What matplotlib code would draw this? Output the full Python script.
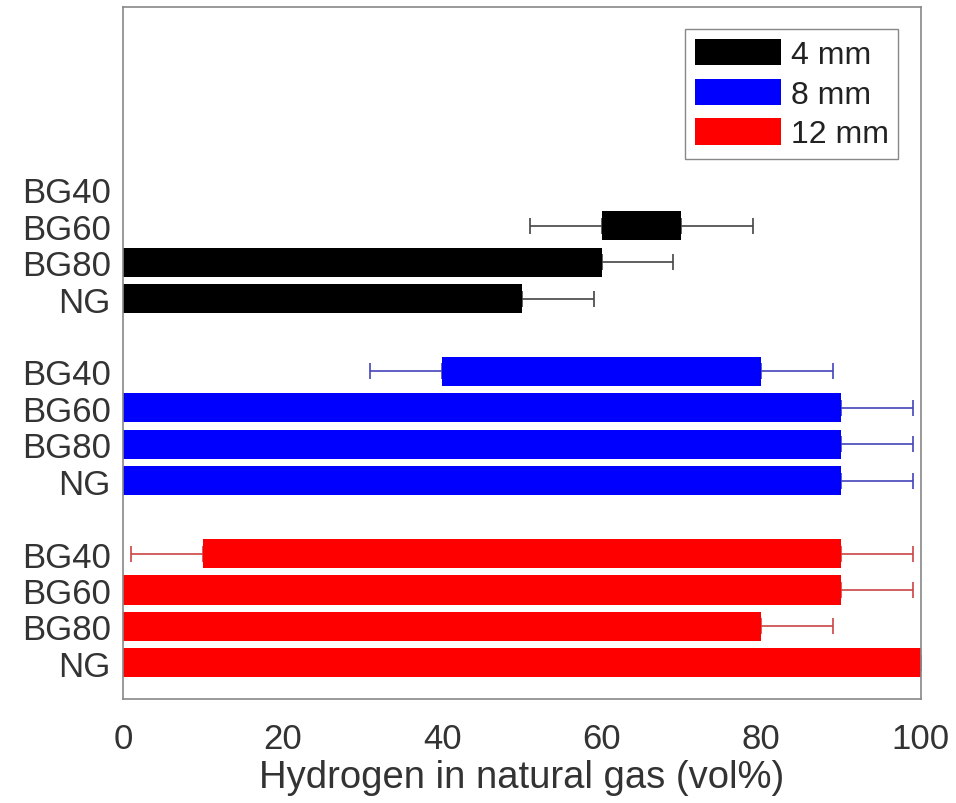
import numpy as np
import matplotlib
matplotlib.use("Agg")
import matplotlib.pyplot as plt

plt.rcParams['font.family'] = ['Liberation Sans', 'DejaVu Sans']

fuels = ["NG", "BG80", "BG60", "BG40"]
series = ["4 mm", "8 mm", "12 mm"]
colors = ["#000000", "#0000ff", "#ff0000"]
err_colors = ["#444444", "#4444bb", "#cc4444"]

# start / end of each bar (vol% H2), order NG, BG80, BG60, BG40
starts = {
    "4 mm": [0, 0, 60, np.nan],
    "8 mm": [0, 0, 0, 40],
    "12 mm": [0, 0, 0, 10],
}
ends = {
    "4 mm": [50, 60, 70, np.nan],
    "8 mm": [90, 90, 90, 80],
    "12 mm": [100, 80, 90, 90],
}
err = 9

# group base rows (bottom to top): 12 mm, 8 mm, 4 mm
bases = {"12 mm": 0, "8 mm": 5, "4 mm": 10}

fig, ax = plt.subplots(figsize=(9.56, 8.04), dpi=100)
fig.subplots_adjust(left=0.129, right=0.963, top=0.99, bottom=0.129)

yticks, ylabels = [], []
for s, c, ec in zip(series, colors, err_colors):
    y = bases[s] + np.arange(len(fuels))
    st = np.array(starts[s], dtype=float)
    en = np.array(ends[s], dtype=float)
    ax.barh(y, en - st, left=st, height=0.8, color=c, label=s, zorder=2)
    ok = ~np.isnan(st)
    ax.errorbar(en[ok], y[ok], xerr=[np.zeros(ok.sum()), np.full(ok.sum(), err)],
                fmt="none", ecolor=ec, elinewidth=1.2, capsize=6, capthick=1.2, zorder=1)
    ax.errorbar(st[ok], y[ok], xerr=[np.full(ok.sum(), err), np.zeros(ok.sum())],
                fmt="none", ecolor=ec, elinewidth=1.2, capsize=6, capthick=1.2, zorder=1)
    yticks += list(y)
    ylabels += fuels

ax.set_xlim(0, 100)
ax.set_ylim(-1, 18)
ax.set_yticks(yticks)
ax.set_yticklabels(ylabels)
ax.set_xticks([0, 20, 40, 60, 80, 100])
ax.tick_params(length=0, labelsize=25, colors="#333333")
ax.tick_params(axis="x", pad=16)
ax.tick_params(axis="y", pad=9)
ax.set_xlabel("Hydrogen in natural gas (vol%)", fontsize=27.5, color="#333333", labelpad=3)
for sp in ax.spines.values():
    sp.set_color("#888888")
    sp.set_linewidth(1.2)

leg = ax.legend(loc="upper right", fontsize=23, handlelength=2.7, handleheight=0.88,
                handletextpad=0.3, labelspacing=0.27, borderpad=0.3,
                fancybox=False, framealpha=1, borderaxespad=0.7)
leg.get_frame().set_edgecolor("#888888")
for t in leg.get_texts():
    t.set_color("#222222")

fig.savefig("out.png", dpi=100)
